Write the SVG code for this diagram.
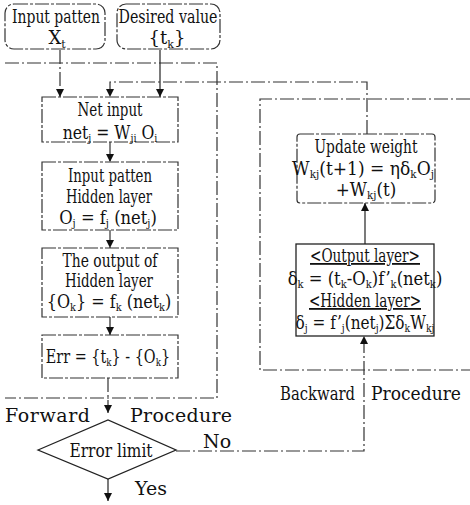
<svg xmlns="http://www.w3.org/2000/svg" width="470" height="505" viewBox="0 0 470 505">
<style>
.t{font-size:18px;text-anchor:middle}
.l{font-size:19px}
.s{font-size:11px}
.box{fill:none;stroke:#333;stroke-width:1.2;stroke-dasharray:14,2,3,2}
.solid{fill:none;stroke:#222;stroke-width:1.3}
.c{fill:none;stroke:#333;stroke-width:1.2;stroke-dasharray:14,3,2,3}
.cs{fill:none;stroke:#222;stroke-width:1.2}
</style>
<defs>
<marker id="ah" viewBox="0 0 10 10" refX="10" refY="5" markerWidth="8" markerHeight="8" orient="auto" markerUnits="userSpaceOnUse">
<path d="M0,0 L10,5 L0,10 Z" fill="#111"/>
</marker>
</defs>

<g id="connectors">
<path class="c" d="M5,63 H217 V398 H5"/>
<path class="c" d="M470,99 H260 V370 H470"/>
<path class="c" d="M60,50 V97" marker-end="url(#ah)"/>
<path class="cs" d="M160,50 V97" marker-end="url(#ah)"/>
<path class="c" d="M367,134 V82 H110 V97" marker-end="url(#ah)"/>
<path class="c" d="M110,142 V162" marker-end="url(#ah)"/>
<path class="c" d="M110,230 V248" marker-end="url(#ah)"/>
<path class="cs" d="M110,317 V335" marker-end="url(#ah)"/>
<path class="c" d="M108,378 V413" marker-end="url(#ah)"/>
<path class="cs" d="M108,479 V501" marker-end="url(#ah)"/>
<path class="c" d="M176,451 H364 V336" marker-end="url(#ah)"/>
<path class="cs" d="M365,244 V203" marker-end="url(#ah)"/>
</g>

<g font-family="'DejaVu Serif', serif" fill="#111">
<g id="input-patten">
<rect class="box" x="5" y="4" width="100" height="45" rx="9"/>
<text class="t" x="56" y="23" textLength="88" lengthAdjust="spacingAndGlyphs">Input patten</text>
<text class="t" x="57" y="44">X<tspan class="s" dy="4">t</tspan></text>
</g>

<g id="desired-value">
<rect class="box" x="117" y="4" width="103" height="45" rx="9"/>
<text class="t" x="168" y="23" textLength="99" lengthAdjust="spacingAndGlyphs">Desired value</text>
<text class="t" x="167" y="44">{t<tspan class="s" dy="4">k</tspan><tspan dy="-4">}</tspan></text>
</g>

<g id="net-input">
<rect class="box" x="42" y="97" width="136" height="45"/>
<text class="t" x="110" y="116" font-size="17" textLength="65" lengthAdjust="spacingAndGlyphs">Net input</text>
<text class="t" x="0" y="0" transform="translate(110,139) scale(0.87,1)">net<tspan class="s" dy="3">j</tspan><tspan dy="-3"> = W</tspan><tspan class="s" dy="3">ji</tspan><tspan dy="-3"> O</tspan><tspan class="s" dy="3">i</tspan></text>
</g>

<g id="hidden-layer">
<rect class="box" x="42" y="162" width="136" height="68"/>
<text class="t" x="110" y="182" textLength="84" lengthAdjust="spacingAndGlyphs">Input patten</text>
<text class="t" x="109" y="203" textLength="86" lengthAdjust="spacingAndGlyphs">Hidden layer</text>
<text class="t" x="0" y="0" transform="translate(108,224) scale(0.91,1)">O<tspan class="s" dy="3">j</tspan><tspan dy="-3"> = f</tspan><tspan class="s" dy="3">j</tspan><tspan dy="-3"> (net</tspan><tspan class="s" dy="3">j</tspan><tspan dy="-3">)</tspan></text>
</g>

<g id="output-hidden">
<rect class="box" x="42" y="248" width="136" height="69"/>
<text class="t" x="110" y="267" textLength="95" lengthAdjust="spacingAndGlyphs">The output of</text>
<text class="t" x="109" y="287" textLength="88" lengthAdjust="spacingAndGlyphs">Hidden layer</text>
<text class="t" x="0" y="0" transform="translate(109,308) scale(0.89,1)">{O<tspan class="s" dy="3">k</tspan><tspan dy="-3">} = f</tspan><tspan class="s" dy="3">k</tspan><tspan dy="-3"> (net</tspan><tspan class="s" dy="3">k</tspan><tspan dy="-3">)</tspan></text>
</g>

<g id="err">
<rect class="box" x="42" y="335" width="136" height="43"/>
<text class="t" x="0" y="0" transform="translate(108,363) scale(0.8,1)">Err = {t<tspan class="s" dy="3">k</tspan><tspan dy="-3">} - {O</tspan><tspan class="s" dy="3">k</tspan><tspan dy="-3">}</tspan></text>
</g>

<g id="error-limit">
<path class="solid" d="M38,450 L108,420 L176,450 L108,479 Z"/>
<text class="t" x="111" y="457" textLength="83" lengthAdjust="spacingAndGlyphs">Error limit</text>
</g>

<g id="update-weight">
<rect class="box" x="297" y="134" width="138" height="69" rx="3"/>
<text class="t" x="366" y="153" textLength="103" lengthAdjust="spacingAndGlyphs">Update weight</text>
<text class="t" x="0" y="0" transform="translate(363,175) scale(0.95,1)">W<tspan class="s" dy="3">kj</tspan><tspan dy="-3">(t+1) = ηδ</tspan><tspan class="s" dy="3">k</tspan><tspan dy="-3">O</tspan><tspan class="s" dy="3">j</tspan></text>
<text class="t" x="0" y="0" transform="translate(366,196) scale(0.93,1)">+W<tspan class="s" dy="3">kj</tspan><tspan dy="-3">(t)</tspan></text>
</g>

<g id="delta">
<rect class="solid" x="296" y="244" width="138" height="92"/>
<text class="t" x="365" y="262" textLength="110" lengthAdjust="spacingAndGlyphs" text-decoration="underline">&lt;Output layer&gt;</text>
<text class="t" x="0" y="0" transform="translate(365,285) scale(0.91,1)">δ<tspan class="s" dy="3">k</tspan><tspan dy="-3"> = (t</tspan><tspan class="s" dy="3">k</tspan><tspan dy="-3">-O</tspan><tspan class="s" dy="3">k</tspan><tspan dy="-3">)f’</tspan><tspan class="s" dy="3">k</tspan><tspan dy="-3">(net</tspan><tspan class="s" dy="3">k</tspan><tspan dy="-3">)</tspan></text>
<text class="t" x="365" y="307" textLength="112" lengthAdjust="spacingAndGlyphs" text-decoration="underline">&lt;Hidden layer&gt;</text>
<text class="t" x="0" y="0" transform="translate(365,329) scale(0.85,1)">δ<tspan class="s" dy="3">j</tspan><tspan dy="-3"> = f’</tspan><tspan class="s" dy="3">j</tspan><tspan dy="-3">(net</tspan><tspan class="s" dy="3">j</tspan><tspan dy="-3">)Σδ</tspan><tspan class="s" dy="3">k</tspan><tspan dy="-3">W</tspan><tspan class="s" dy="3">kj</tspan></text>
</g>

<g id="labels">
<text class="l" x="5" y="422" textLength="85" lengthAdjust="spacing">Forward</text>
<text class="l" x="130" y="422" textLength="102" lengthAdjust="spacing">Procedure</text>
<text class="l" x="280" y="400" textLength="75" lengthAdjust="spacingAndGlyphs">Backward</text>
<text class="l" x="371" y="400" textLength="90" lengthAdjust="spacingAndGlyphs">Procedure</text>
<text class="l" x="203" y="448">No</text>
<text class="l" x="135" y="495">Yes</text>
</g>
</g>
</svg>
